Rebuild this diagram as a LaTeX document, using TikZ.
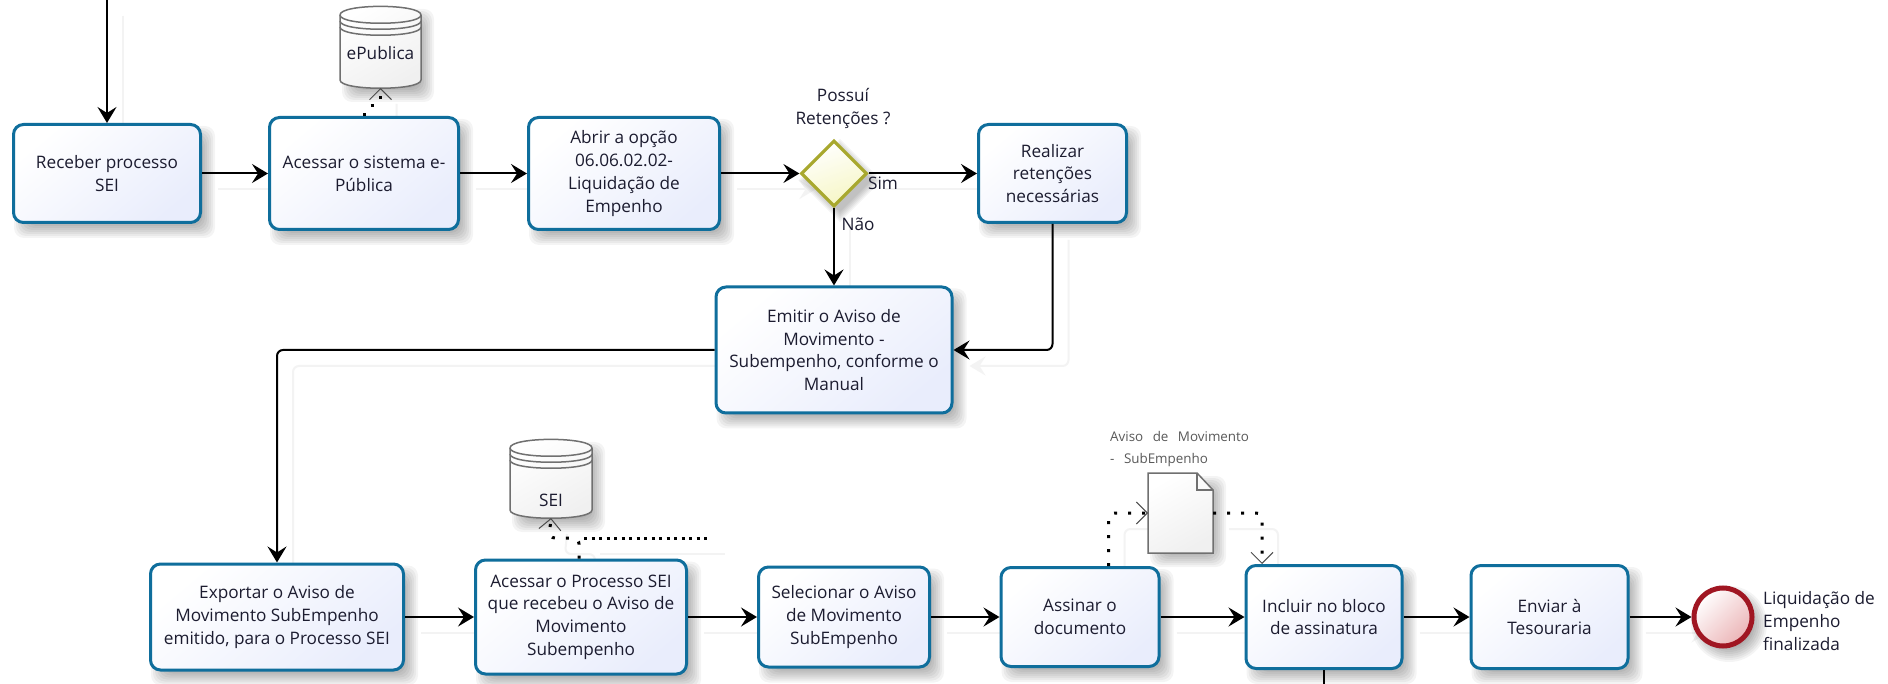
\documentclass[tikz,border=0pt]{standalone}
\usepackage{fontspec}
\setmainfont{Open Sans}
\usetikzlibrary{arrows.meta,shapes.geometric,backgrounds,calc}
\definecolor{boxline}{HTML}{0F6E9C}
\definecolor{boxfill}{HTML}{E9EDFC}
\definecolor{txt}{HTML}{1C1C30}
\definecolor{gateline}{HTML}{A8A82E}
\definecolor{gatefill}{HTML}{F6F6C4}
\definecolor{endline}{HTML}{A01622}
\definecolor{endfill}{HTML}{EBB4B6}
\definecolor{grayline}{HTML}{707070}
\definecolor{ghostline}{HTML}{F3F3F3}
\tikzset{
  procbox/.style={rectangle,rounded corners=10pt,draw=boxline,line width=3pt,
    top color=white,bottom color=boxfill,shading angle=40,
    align=center,text=txt,inner sep=1pt,font=\fontsize{17.2}{22.7}\selectfont},
  gate/.style={diamond,draw=gateline,line width=3.2pt,inner sep=0pt,minimum width=66pt,minimum height=66pt,
    top color=white,bottom color=gatefill,shading angle=20},
  endevent/.style={circle,draw=endline,line width=5pt,inner sep=0pt,minimum size=58pt,
    top color=white,bottom color=endfill,shading angle=45},
  lbl/.style={text=txt,align=center,inner sep=0pt,font=\fontsize{17.2}{22.7}\selectfont},
  doclbl/.style={text=black!65,align=left,inner sep=0pt,font=\fontsize{13.4}{22}\selectfont},
  holder/.style={rectangle,inner sep=0pt,outer sep=0pt,text=txt,font=\fontsize{17.2}{22.7}\selectfont},
  flow/.style={draw=black,line width=2pt,rounded corners=6pt,-{Stealth[length=16pt,width=19pt,inset=6pt]}},
  flowend/.style={draw=black,line width=2pt},
  assoc/.style={draw=black,line width=3pt,dash pattern=on 3pt off 11pt,rounded corners=6pt,
    -{Straight Barb[length=11pt,width=22pt,line width=1pt,black!70]}},
  assocend/.style={draw=black,line width=3pt,dash pattern=on 3pt off 4.5pt},
  dbshape/.style={draw=grayline,line width=1.5pt,top color=white,bottom color=black!6,shading angle=30},
  rimline/.style={draw=grayline,line width=1.5pt},
  softlayer/.style={fill=black,fill opacity=0.045},
}
\newcommand{\cylbody}[4]{% left, top, width, height
  \begin{scope}[shift={(#1,#2)}]
    \path[dbshape] (0,9) .. controls (0,-2.5) and (#3,-2.5) .. (#3,9) -- (#3,#4-8)
      .. controls (#3,#4+3) and (0,#4+3) .. (0,#4-8) -- cycle;
    \foreach \r in {9,15,21}{
      \draw[rimline] (0,\r) .. controls (0,\r+11) and (#3,\r+11) .. (#3,\r);}
  \end{scope}}
\newcommand{\softbox}[1]{%
  \foreach \e in {-5,-3,-1,1,3,5,7,9}{
    \fill[softlayer,rounded corners=10pt]
      ($(#1.north west)+(11-\e,12-\e)$) rectangle ($(#1.south east)+(4+\e,5+\e)$);}}
\newcommand{\softgate}[1]{%
  \foreach \e in {-3,-1,1,3,5,7}{
    \fill[softlayer] ($(#1.north)+(6,7-\e)$) -- ($(#1.east)+(6+\e,7)$) -- ($(#1.south)+(6,7+\e)$) -- ($(#1.west)+(6-\e,7)$) -- cycle;}}
\newcommand{\softround}[1]{%
  \foreach \e in {24,26,28,30,32,34,36,38}{
    \fill[softlayer] ($(#1.center)+(6,7)$) circle[radius=\e pt];}}
\newcommand{\wires}{%
  \draw[flow] (topstart) -- (rec.north);
  \draw[flow] (rec.east) -- (acc.west);
  \draw[flow] (acc.east) -- (abr.west);
  \draw[flow] (abr.east) -- (dia.west);
  \draw[flow] (dia.east) -- (rea.west);
  \draw[flow] (dia.south) -- (emi.north);
  \draw[flow] (rea.south) |- (emi.east);
  \draw[flow] (emi.west) -| (exp.north);
  \draw[flow] (exp.east) -- (pro.west);
  \draw[flow] (pro.east) -- (sel.west);
  \draw[flow] (sel.east) -- (ass.west);
  \draw[flow] (ass.east) -- (inc.west);
  \draw[flow] (inc.east) -- (env.west);
  \draw[flow] (env.east) -- (fim.west);
  \draw[flowend] (inc.south) -- (botend);
  \draw[assoc] (acc.north) |- (epubjoin) -- (epub.south);
  \draw[assoc] ([xshift=-2pt]pro.north) |- (seijoin) -- (sei.south);
  \draw[assocend] (seistart) -- (seifree);
  \draw[assoc] ([xshift=28.5pt]ass.north) |- (doc.west);
  \draw[assoc] (doc.east) -| ([xshift=-62pt]inc.north);
}
\begin{document}
\begin{tikzpicture}[x=1pt,y=-1pt]
\useasboundingbox (0,0) rectangle (1888,684);
\coordinate (topstart) at (107,0);
\coordinate (botend) at (1324,684);
\coordinate (epubjoin) at (380.5,106);
\coordinate (seijoin) at (549,538);
\coordinate (seistart) at (584,538);
\coordinate (seifree) at (709,538);

\cylbody{340}{6}{81}{82}
\cylbody{510}{439}{82}{79}
\path[dbshape] (1148,473) -- (1197,473) -- (1213,490) -- (1213,553) -- (1148,553) -- cycle;
\draw[rimline] (1197,473) -- (1197,490) -- (1213,490);

\node[holder,minimum width=81pt,minimum height=82pt] (epub) at (380.5,47) {};
\node[holder] (epubtxt) at (380.5,53) {ePublica};
\node[holder,minimum width=82pt,minimum height=79pt] (sei) at (551,478.5) {};
\node[holder] (seitxt) at (551,500) {SEI};
\node[holder,minimum width=65pt,minimum height=80pt] (doc) at (1180.5,513) {};

\node[procbox,minimum width=187pt,minimum height=98pt] (rec) at (107,173.5) {Receber processo\\SEI};
\node[procbox,minimum width=189pt,minimum height=112pt] (acc) at (364,173.5) {Acessar o sistema e-\\Pública};
\node[procbox,minimum width=191pt,minimum height=112pt] (abr) at (624,173.5) {Abrir a opção\\06.06.02.02-\\Liquidação de\\Empenho};
\node[gate] (dia) at (834,173.5) {};
\node[procbox,minimum width=148pt,minimum height=98pt] (rea) at (1052.5,173.5) {Realizar\\retenções\\necessárias};
\node[procbox,minimum width=236pt,minimum height=126pt] (emi) at (834,350) {Emitir o Aviso de\\Movimento -\\Subempenho, conforme o\\Manual};
\node[procbox,minimum width=253pt,minimum height=106pt] (exp) at (277,617) {Exportar o Aviso de\\Movimento SubEmpenho\\emitido, para o Processo SEI};
\node[procbox,minimum width=211pt,minimum height=114pt] (pro) at (581,617) {Acessar o Processo SEI\\que recebeu o Aviso de\\Movimento\\Subempenho};
\node[procbox,minimum width=171pt,minimum height=100pt] (sel) at (844,617) {Selecionar o Aviso\\de Movimento\\SubEmpenho};
\node[procbox,minimum width=158pt,minimum height=99pt] (ass) at (1080,617) {Assinar o\\documento};
\node[procbox,minimum width=156pt,minimum height=103pt] (inc) at (1324,617) {Incluir no bloco\\de assinatura};
\node[procbox,minimum width=157pt,minimum height=103pt] (env) at (1549.5,617) {Enviar à\\Tesouraria};
\node[endevent] (fim) at (1723,617) {};

\node[lbl] (pergunta) at (843,108.5) {Possuí\\Retenções ?};
\node[lbl] (sim) at (883,183) {Sim};
\node[lbl] (nao) at (858,224) {Não};
\node[lbl,anchor=west,align=left] (fimtxt) at (1763,621) {Liquidação de\\Empenho\\finalizada};
\node[doclbl,anchor=west] (doctxt) at (1110,449) {Aviso\hspace{6pt} de\hspace{6pt} Movimento\\-\hspace{6pt} SubEmpenho};

\wires

\begin{pgfonlayer}{background}
  \fill[white] (0,0) rectangle (1888,684);
  \begin{scope}[transform canvas={shift={(16pt,-16pt)}},
    flow/.style={draw=ghostline,line width=2pt,rounded corners=6pt,-{Stealth[length=16pt,width=19pt,inset=6pt]}},
    flowend/.style={draw=ghostline,line width=2pt},
    assoc/.style={draw=ghostline,line width=2pt,rounded corners=6pt},
    assocend/.style={draw=ghostline,line width=2pt}]
    \wires
  \end{scope}
  \foreach \n in {rec,acc,abr,rea,emi,exp,pro,sel,ass,inc,env,epub,sei,doc}{\softbox{\n}}
  \softgate{dia}
  \softround{fim}
\end{pgfonlayer}
\end{tikzpicture}
\end{document}
